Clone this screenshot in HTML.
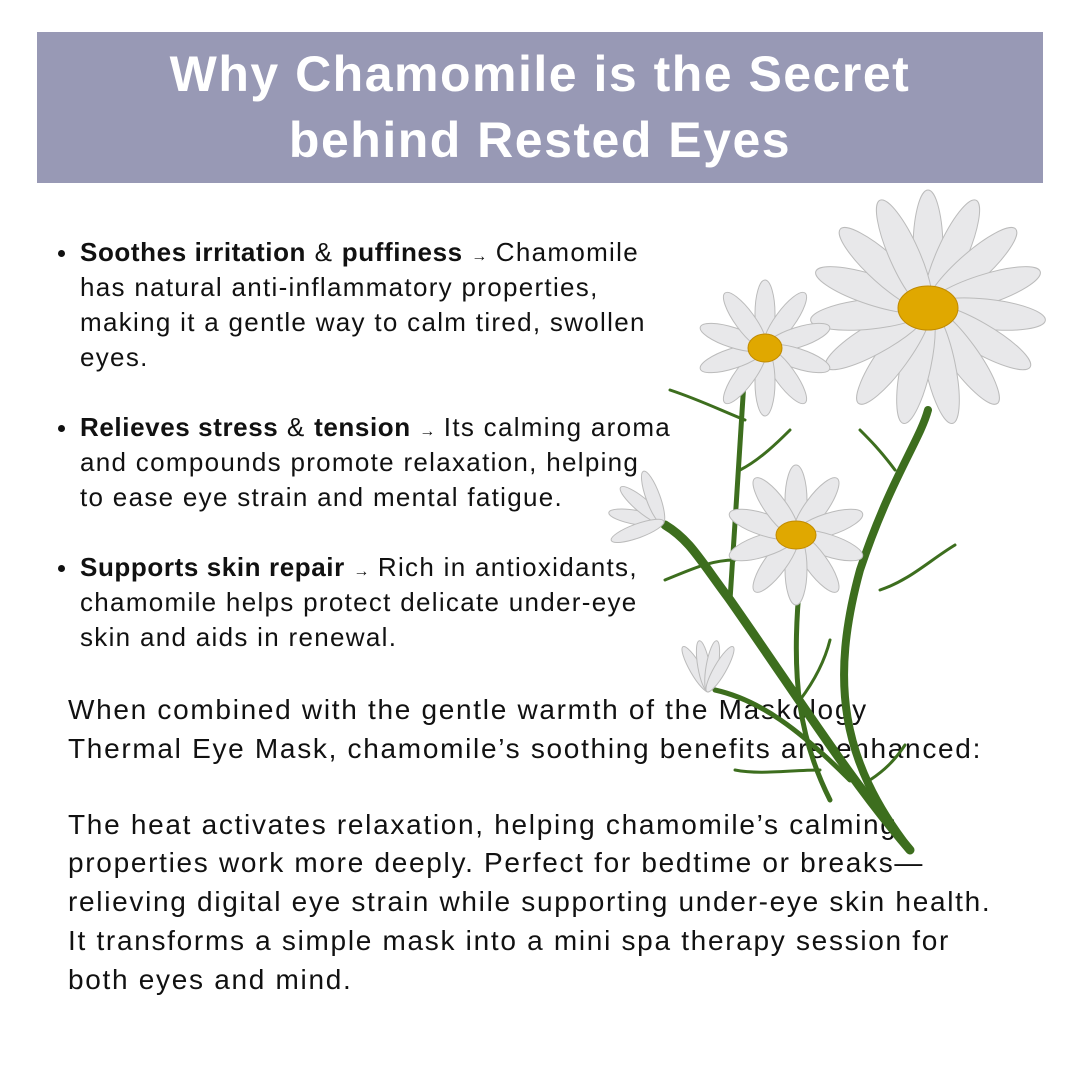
<!DOCTYPE html>
<html><head><meta charset="utf-8"><style>
body{margin:0;width:1080px;height:1080px;background:#fff;position:relative;overflow:hidden;font-family:"Liberation Sans",sans-serif;color:#111}
.hdr{position:absolute;left:37px;top:32px;width:1006px;height:151px;background:#9899b5}
.t{position:absolute;left:0;width:1080px;text-align:center;color:#fff;font-weight:bold;font-size:50px;letter-spacing:1.5px;white-space:nowrap}
.l{position:absolute;white-space:nowrap}
.b{font-size:26px;left:80px;letter-spacing:1.3px}
.b b{letter-spacing:0.6px}
.p{font-size:28px;left:68px;letter-spacing:1.7px}
.a{font-size:16px;letter-spacing:0}
.dot{position:absolute;left:58px;width:7px;height:7px;border-radius:50%;background:#111}
svg{position:absolute;left:0;top:0}
</style></head><body>
<div class="hdr"></div>
<div class="t" style="top:45px">Why Chamomile is the Secret</div>
<div class="t" style="top:111px">behind Rested Eyes</div>

<div class="dot" style="top:250px"></div>
<div class="l b" style="top:237px"><b>Soothes irritation</b> &amp; <b>puffiness</b> <span class="a">→</span> Chamomile</div>
<div class="l b" style="top:272px">has natural anti-inflammatory properties,</div>
<div class="l b" style="top:307px">making it a gentle way to calm tired, swollen</div>
<div class="l b" style="top:342px">eyes.</div>

<div class="dot" style="top:425px"></div>
<div class="l b" style="top:412px"><b>Relieves stress</b> &amp; <b>tension</b> <span class="a">→</span> Its calming aroma</div>
<div class="l b" style="top:447px">and compounds promote relaxation, helping</div>
<div class="l b" style="top:482px">to ease eye strain and mental fatigue.</div>

<div class="dot" style="top:565px"></div>
<div class="l b" style="top:552px"><b>Supports skin repair</b> <span class="a">→</span> Rich in antioxidants,</div>
<div class="l b" style="top:587px">chamomile helps protect delicate under-eye</div>
<div class="l b" style="top:622px">skin and aids in renewal.</div>

<div class="l p" style="top:694px">When combined with the gentle warmth of the Maskology</div>
<div class="l p" style="top:733px">Thermal Eye Mask, chamomile’s soothing benefits are enhanced:</div>
<div class="l p" style="top:809px">The heat activates relaxation, helping chamomile’s calming</div>
<div class="l p" style="top:847px">properties work more deeply. Perfect for bedtime or breaks—</div>
<div class="l p" style="top:886px">relieving digital eye strain while supporting under-eye skin health.</div>
<div class="l p" style="top:925px">It transforms a simple mask into a mini spa therapy session for</div>
<div class="l p" style="top:964px">both eyes and mind.</div>

<svg width="1080" height="1080" viewBox="0 0 1080 1080">
<g fill="none" stroke="#3d6e1e" stroke-linecap="round">
<path d="M910 850 C850 780 800 700 730 600 C700 560 690 540 665 525" stroke-width="9"/>
<path d="M910 850 C840 760 830 680 860 570 C890 480 920 440 928 410" stroke-width="8"/>
<path d="M830 800 C800 740 790 680 800 580" stroke-width="5"/>
<path d="M730 600 C735 520 740 450 745 365" stroke-width="5"/>
<path d="M850 780 C800 730 760 700 715 690" stroke-width="5"/>
<path d="M745 420 C720 410 700 400 670 390" stroke-width="3"/>
<path d="M740 470 C760 460 780 440 790 430" stroke-width="3"/>
<path d="M735 560 C710 560 690 570 665 580" stroke-width="3"/>
<path d="M880 590 C910 580 930 560 955 545" stroke-width="3"/>
<path d="M895 470 C880 450 870 440 860 430" stroke-width="3"/>
<path d="M800 700 C815 680 825 660 830 640" stroke-width="3"/>
<path d="M820 770 C790 770 760 775 735 770" stroke-width="3"/>
<path d="M870 780 C885 770 895 760 905 745" stroke-width="3"/>
</g>
<g fill="#e8e8ea" stroke="#bbb" stroke-width="1">
<g transform="translate(928,308)">
<ellipse rx="15" ry="60" transform="rotate(0) translate(0,-58)"/>
<ellipse rx="15" ry="60" transform="rotate(24) translate(0,-58)"/>
<ellipse rx="15" ry="60" transform="rotate(48) translate(0,-58)"/>
<ellipse rx="15" ry="60" transform="rotate(72) translate(0,-58)"/>
<ellipse rx="15" ry="60" transform="rotate(96) translate(0,-58)"/>
<ellipse rx="15" ry="60" transform="rotate(120) translate(0,-58)"/>
<ellipse rx="15" ry="60" transform="rotate(144) translate(0,-58)"/>
<ellipse rx="15" ry="60" transform="rotate(168) translate(0,-58)"/>
<ellipse rx="15" ry="60" transform="rotate(192) translate(0,-58)"/>
<ellipse rx="15" ry="60" transform="rotate(216) translate(0,-58)"/>
<ellipse rx="15" ry="60" transform="rotate(240) translate(0,-58)"/>
<ellipse rx="15" ry="60" transform="rotate(264) translate(0,-58)"/>
<ellipse rx="15" ry="60" transform="rotate(288) translate(0,-58)"/>
<ellipse rx="15" ry="60" transform="rotate(312) translate(0,-58)"/>
<ellipse rx="15" ry="60" transform="rotate(336) translate(0,-58)"/>
<ellipse rx="30" ry="22" fill="#e0a800" stroke="#c08a00"/>
</g>
<g transform="translate(765,348)">
<ellipse rx="10" ry="34" transform="rotate(0) translate(0,-34)"/>
<ellipse rx="10" ry="34" transform="rotate(36) translate(0,-34)"/>
<ellipse rx="10" ry="34" transform="rotate(72) translate(0,-34)"/>
<ellipse rx="10" ry="34" transform="rotate(108) translate(0,-34)"/>
<ellipse rx="10" ry="34" transform="rotate(144) translate(0,-34)"/>
<ellipse rx="10" ry="34" transform="rotate(180) translate(0,-34)"/>
<ellipse rx="10" ry="34" transform="rotate(216) translate(0,-34)"/>
<ellipse rx="10" ry="34" transform="rotate(252) translate(0,-34)"/>
<ellipse rx="10" ry="34" transform="rotate(288) translate(0,-34)"/>
<ellipse rx="10" ry="34" transform="rotate(324) translate(0,-34)"/>
<ellipse rx="17" ry="14" fill="#e0a800" stroke="#c08a00"/>
</g>
<g transform="translate(796,535)">
<ellipse rx="11" ry="36" transform="rotate(0) translate(0,-34)"/>
<ellipse rx="11" ry="36" transform="rotate(36) translate(0,-34)"/>
<ellipse rx="11" ry="36" transform="rotate(72) translate(0,-34)"/>
<ellipse rx="11" ry="36" transform="rotate(108) translate(0,-34)"/>
<ellipse rx="11" ry="36" transform="rotate(144) translate(0,-34)"/>
<ellipse rx="11" ry="36" transform="rotate(180) translate(0,-34)"/>
<ellipse rx="11" ry="36" transform="rotate(216) translate(0,-34)"/>
<ellipse rx="11" ry="36" transform="rotate(252) translate(0,-34)"/>
<ellipse rx="11" ry="36" transform="rotate(288) translate(0,-34)"/>
<ellipse rx="11" ry="36" transform="rotate(324) translate(0,-34)"/>
<ellipse rx="20" ry="14" fill="#e0a800" stroke="#c08a00"/>
</g>
<g transform="translate(662,522)">
<ellipse rx="7" ry="28" transform="rotate(-80) translate(0,-26)"/>
<ellipse rx="7" ry="28" transform="rotate(-50) translate(0,-26)"/>
<ellipse rx="7" ry="28" transform="rotate(-20) translate(0,-26)"/>
<ellipse rx="7" ry="28" transform="rotate(-110) translate(0,-26)"/>
</g>
<g transform="translate(708,690)">
<ellipse rx="6" ry="26" transform="rotate(-30) translate(0,-24)"/>
<ellipse rx="6" ry="26" transform="rotate(-10) translate(0,-24)"/>
<ellipse rx="6" ry="26" transform="rotate(10) translate(0,-24)"/>
<ellipse rx="6" ry="26" transform="rotate(30) translate(0,-24)"/>
</g>
</g>
</svg>
</body></html>
